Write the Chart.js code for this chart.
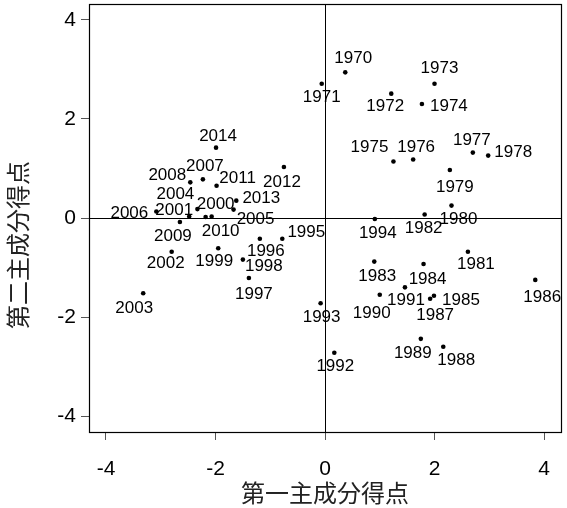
<!DOCTYPE html>
<html>
<head>
<meta charset="utf-8">
<script src="https://cdn.jsdelivr.net/npm/chart.js@4/dist/chart.umd.min.js"></script>
<style>
html,body{margin:0;padding:0;background:#fff;}
#wrap{width:567px;height:508px;}
</style>
</head>
<body>
<div id="wrap"><canvas id="c"></canvas></div>
<script>
const years = [1970,1971,1972,1973,1974,1975,1976,1977,1978,1979,
  1980,1981,1982,1983,1984,1985,1986,1987,1988,1989,
  1990,1991,1992,1993,1994,1995,1996,1997,1998,1999,
  2000,2001,2002,2003,2004,2005,2006,2007,2008,2009,
  2010,2011,2012,2013,2014];
const pc1 = [0.37,-0.06,1.21,2.00,1.77,1.25,1.61,2.70,2.98,2.28,
  2.31,2.61,1.82,0.90,1.80,1.99,3.84,1.92,2.16,1.75,
  1.00,1.46,0.17,-0.08,0.91,-0.78,-1.19,-1.39,-1.50,-1.95,
  -2.18,-2.48,-2.80,-3.32,-2.33,-1.67,-3.08,-2.23,-2.46,-2.65,
  -2.07,-1.98,-0.75,-1.62,-1.99];
const pc2 = [2.94,2.71,2.51,2.71,2.30,1.14,1.18,1.32,1.26,0.97,
  0.25,-0.68,0.07,-0.88,-0.93,-1.57,-1.25,-1.63,-2.60,-2.44,
  -1.55,-1.40,-2.72,-1.72,-0.02,-0.42,-0.42,-1.21,-0.84,-0.61,
  0.02,0.03,-0.68,-1.52,0.18,0.17,0.13,0.78,0.72,-0.08,
  0.03,0.65,1.03,0.35,1.42];
const xTicks = [-4,-2,0,2,4];
const yTicks = [-4,-2,0,2,4];
const xTitle = '第一主成分得点';
const yTitle = '第二主成分得点';

// label placement (pixel offsets of label centre from its point)
const labelOffsets = {
  1970:[8,-14],1971:[0,14],1972:[-6,13],1973:[5,-15],1974:[27,2],
  1975:[-24,-14],1976:[3,-12],1977:[-1,-12],1978:[25,-3],1979:[5,17],
  1980:[7,14],1981:[8,13],1982:[-1,14],1983:[3,15],1984:[4,15],
  1985:[27,5],1986:[7,17],1987:[5,17],1988:[13,14],1989:[-8,14],
  1990:[-8,19],1991:[1,13],1992:[1,14],1993:[1,14],1994:[3,14],
  1995:[24,-6],1996:[6,13],1997:[5,16],1998:[21,7],1999:[-4,13],
  2000:[10,-13],2001:[-15,-6],2002:[-6,12],2003:[-9,15],2004:[-22,-15],
  2005:[22,10],2006:[-27,2],2007:[2,-13],2008:[-23,-7],2009:[-7,14],
  2010:[9,15],2011:[21,-7],2012:[-2,15],2013:[25,-2],2014:[2,-11]
};

const FONT = 'Liberation Sans, Arial, sans-serif';

const boxPlugin = {
  id: 'boxAndZero',
  beforeDatasetsDraw(chart) {
    const {ctx, chartArea: a, scales: {x, y}} = chart;
    ctx.save();
    ctx.strokeStyle = '#000';
    ctx.lineWidth = 1;
    const x0 = Math.round(x.getPixelForValue(0)) + 0.5;
    const y0 = Math.round(y.getPixelForValue(0)) + 0.5;
    ctx.beginPath();
    ctx.moveTo(x0, a.top); ctx.lineTo(x0, a.bottom);
    ctx.moveTo(a.left, y0); ctx.lineTo(a.right, y0);
    ctx.stroke();
    ctx.lineWidth = 1.2;
    ctx.strokeRect(a.left + 0.5, a.top + 0.5, a.right - a.left, a.bottom - a.top);
    ctx.restore();
  },
  afterDraw(chart) {
    const {ctx} = chart;
    ctx.save();
    ctx.fillStyle = '#222';
    ctx.font = '24px "Noto Sans CJK JP", "Noto Sans CJK SC", sans-serif';
    ctx.textAlign = 'center';
    ctx.textBaseline = 'middle';
    ctx.translate(18, 245);
    ctx.rotate(-Math.PI / 2);
    ctx.fillText(yTitle, 0, 0);
    ctx.restore();
  }
};

const labelPlugin = {
  id: 'pointLabels',
  afterDatasetsDraw(chart) {
    const {ctx} = chart;
    const meta = chart.getDatasetMeta(0);
    ctx.save();
    ctx.fillStyle = '#000';
    ctx.font = '17px ' + FONT;
    ctx.textAlign = 'center';
    ctx.textBaseline = 'middle';
    meta.data.forEach((pt, i) => {
      const off = labelOffsets[years[i]] || [0, 14];
      ctx.fillText(String(years[i]), pt.x + off[0], pt.y + off[1]);
    });
    ctx.restore();
  }
};

function noPad(s) {
  s.paddingTop = 0; s.paddingBottom = 0; s.paddingLeft = 0; s.paddingRight = 0;
}

new Chart(document.getElementById('c'), {
  type: 'scatter',
  data: {
    datasets: [{
      data: pc1.map((v, i) => ({x: v, y: pc2[i]})),
      backgroundColor: '#000',
      borderWidth: 0,
      pointRadius: 2.3,
      pointHoverRadius: 2.3
    }]
  },
  options: {
    responsive: true,
    maintainAspectRatio: false,
    animation: false,
    events: [],
    layout: {padding: {top: 4, right: 6, left: 0, bottom: 0}},
    plugins: {legend: {display: false}, tooltip: {enabled: false}},
    scales: {
      x: {
        type: 'linear', position: 'bottom',
        min: -4.31, max: 4.31,
        afterBuildTicks: s => { s.ticks = xTicks.map(v => ({value: v})); },
        afterFit: s => { s.height = 76; noPad(s); },
        grid: {drawOnChartArea: false, drawTicks: true, tickLength: 8, tickColor: '#555', lineWidth: 1},
        border: {display: false},
        ticks: {font: {family: FONT, size: 21}, color: '#000', padding: 17, maxRotation: 0},
        title: {display: true, text: xTitle, color: '#222',
          font: {family: '"Noto Sans CJK JP", "Noto Sans CJK SC", sans-serif', size: 24},
          padding: {top: 0, bottom: 1}}
      },
      y: {
        type: 'linear', position: 'left',
        min: -4.32, max: 4.32,
        afterBuildTicks: s => { s.ticks = yTicks.map(v => ({value: v})); },
        afterFit: s => { s.width = 89; noPad(s); },
        grid: {drawOnChartArea: false, drawTicks: true, tickLength: 8, tickColor: '#555', lineWidth: 1},
        border: {display: false},
        ticks: {font: {family: FONT, size: 21}, color: '#000', padding: 5}
      }
    }
  },
  plugins: [boxPlugin, labelPlugin]
});
</script>
</body>
</html>
